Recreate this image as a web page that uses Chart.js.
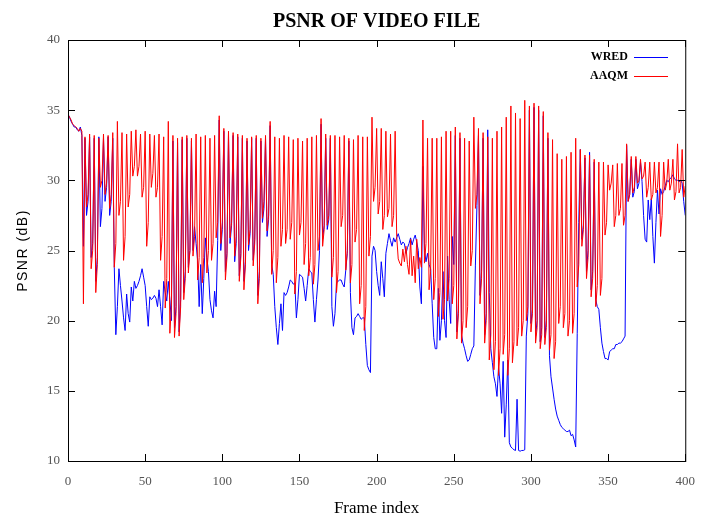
<!DOCTYPE html>
<html>
<head>
<meta charset="utf-8">
<title>PSNR of video file</title>
<script src="https://cdn.jsdelivr.net/npm/chart.js@4.4.1/dist/chart.umd.min.js"></script>
<style>
    html, body { margin: 0; padding: 0; background: #fff; }
    canvas { display: block; }
</style>
</head>
<body>
<canvas id="psnr-chart" width="708" height="517"></canvas>
<script>
// frame index 0..400
const frames = Array.from({ length: 401 }, (_, i) => i);

// PSNR (dB) of WRED, one value per frame
const wred = [
    34.7, 34.5, 34.2, 34.0, 33.8, 33.8, 33.6, 33.5, 33.8, 33.2,
    25.3, 33.0, 27.5, 28.5, 33.1, 24.5, 25.5, 33.0, 22.8, 24.5,
    33.1, 26.7, 28.0, 33.0, 28.5, 29.5, 33.1, 27.5, 28.5, 33.0,
    23.8, 19.0, 21.0, 23.7, 22.5, 21.4, 20.2, 19.3, 21.9, 20.5,
    19.9, 22.4, 21.4, 22.8, 22.3, 22.5, 22.8, 23.2, 23.7, 23.1,
    22.5, 21.0, 19.6, 21.7, 21.5, 21.6, 21.8, 21.6, 21.0, 22.2,
    21.0, 19.7, 22.8, 22.0, 21.4, 22.8, 21.5, 20.0, 32.8, 19.5,
    21.0, 32.7, 19.2, 21.5, 32.9, 22.0, 23.5, 33.0, 23.8, 25.0,
    32.8, 25.0, 26.7, 25.5, 24.3, 21.0, 24.0, 20.5, 23.0, 25.9,
    24.5, 23.5, 21.5, 20.7, 20.2, 22.1, 21.0, 25.7, 34.3, 25.0,
    26.5, 33.5, 23.5, 24.8, 33.3, 25.5, 26.8, 33.2, 24.2, 25.5,
    33.1, 23.2, 24.8, 33.0, 22.8, 24.2, 32.8, 25.0, 26.2, 33.0,
    24.3, 25.8, 33.0, 21.8, 23.5, 32.8, 27.0, 28.0, 33.0, 26.0,
    27.2, 33.9, 24.0, 23.3, 21.0, 19.5, 18.3, 19.8, 21.2, 19.3,
    22.0, 21.8, 22.0, 22.4, 22.9, 22.8, 22.6, 22.7, 20.2, 21.5,
    23.3, 23.2, 23.1, 22.3, 21.4, 22.5, 23.7, 23.5, 23.4, 21.5,
    19.9, 21.5, 22.9, 25.0, 34.0, 25.8, 26.8, 33.0, 26.5, 27.2,
    33.0, 21.0, 19.6, 20.5, 22.7, 22.8, 22.9, 22.9, 22.6, 22.4,
    23.6, 24.8, 32.8, 22.0, 19.5, 19.0, 20.2, 20.3, 20.5, 20.3,
    20.1, 20.2, 20.2, 18.3, 16.8, 16.5, 16.3, 24.6, 25.3, 25.0,
    23.5, 22.5, 21.8, 24.2, 23.0, 21.7, 24.8, 25.5, 26.2, 25.7,
    25.3, 25.9, 25.6, 25.9, 26.2, 25.8, 25.4, 25.6, 25.5, 24.8,
    25.2, 25.5, 25.9, 25.4, 25.8, 26.1, 25.6, 25.0, 22.4, 21.2,
    31.0, 25.0, 24.2, 24.8, 24.0, 23.7, 21.2, 18.8, 18.0, 18.0,
    22.3, 18.6, 20.0, 23.5, 20.0, 18.8, 24.6, 21.5, 19.8, 26.0,
    24.0, 33.2, 19.2, 20.8, 33.0, 19.0, 18.4, 18.0, 17.5, 17.1,
    17.2, 17.6, 18.0, 18.2, 23.9, 28.2, 33.2, 21.8, 23.5, 33.0,
    19.0, 20.5, 33.6, 22.0, 18.0, 17.0, 16.0, 15.5, 14.6, 16.7,
    15.5, 13.4, 17.1, 11.7, 14.0, 17.2, 11.3, 11.0, 10.9, 10.8,
    10.75, 14.4, 10.75, 10.7, 10.75, 10.75, 10.8, 18.9, 20.5, 35.0,
    19.8, 20.8, 35.2, 18.9, 20.0, 35.0, 18.5, 19.5, 34.6, 18.8,
    20.0, 33.0, 17.5, 16.0, 15.2, 14.4, 13.7, 13.2, 12.9, 12.6,
    12.4, 12.3, 12.2, 12.1, 12.1, 12.2, 11.8, 11.9, 11.5, 11.0,
    19.1, 27.0, 32.2, 25.8, 26.8, 31.6, 23.5, 25.0, 32.0, 22.2,
    23.5, 31.3, 21.5, 21.0, 20.8, 19.5, 18.4, 17.8, 17.3, 17.3,
    17.2, 17.8, 17.9, 18.0, 18.0, 18.3, 18.3, 18.4, 18.4, 18.5,
    18.7, 18.9, 32.5, 28.5, 29.0, 31.5, 28.8, 29.2, 31.5, 29.4,
    29.8, 31.3, 29.9, 27.5, 25.8, 25.6, 28.6, 27.2, 28.7, 26.0,
    24.1, 27.0, 29.3, 27.6, 29.4, 29.0, 29.2, 29.6, 30.0, 29.9,
    30.1, 30.2, 30.4, 30.1, 30.0, 30.0, 29.9, 30.0, 29.8, 28.5,
    27.5
];

// PSNR (dB) of AAQM, one value per frame
const aaqm = [
    34.7, 34.5, 34.3, 34.0, 33.9, 33.8, 33.7, 33.5, 33.7, 33.5, 21.2,
    33.1, 28.1, 29.0, 33.3, 23.7, 25.0, 33.2, 22.0, 24.0, 33.0, 29.5, 30.0, 33.3, 29.0, 29.8,
    33.2, 28.0, 29.0, 33.4, 23.8, 25.5, 34.2, 27.5, 28.5, 33.4, 24.3, 26.0, 33.3, 28.1, 29.0,
    33.5, 30.3, 31.0, 33.6, 30.3, 31.0, 33.3, 28.8, 29.5, 33.5, 25.3, 27.0, 33.3, 29.5, 30.5,
    33.2, 28.8, 29.5, 33.3, 24.3, 26.0, 33.1, 20.9, 23.0, 34.2, 19.1, 21.0, 33.2, 18.8, 20.5,
    33.0, 18.9, 21.0, 33.1, 21.5, 23.0, 33.2, 23.4, 25.0, 33.0, 24.6, 26.0, 33.3, 22.9, 24.5,
    33.1, 22.7, 24.5, 33.2, 23.4, 25.0, 33.0, 24.3, 25.5, 33.2, 25.9, 27.0, 34.6, 25.5, 27.0,
    33.7, 22.9, 24.5, 33.5, 25.9, 27.0, 33.4, 24.6, 26.0, 33.3, 22.8, 24.5, 33.2, 22.2, 24.0,
    33.0, 25.4, 26.5, 33.1, 23.9, 25.5, 33.2, 21.2, 23.0, 33.0, 27.3, 28.5, 33.2, 26.4, 27.5,
    34.2, 23.3, 25.0, 33.1, 22.7, 24.5, 33.0, 25.3, 26.5, 33.2, 25.5, 26.5, 33.1, 25.8, 27.0,
    32.9, 21.9, 23.5, 33.0, 26.1, 27.0, 32.8, 24.0, 25.5, 33.0, 23.2, 24.5, 33.1, 22.6, 24.0,
    33.2, 25.0, 26.0, 34.4, 25.3, 26.5, 33.3, 26.8, 27.5, 33.2, 23.1, 24.5, 33.2, 22.0, 23.5,
    33.1, 26.7, 27.5, 33.2, 23.6, 25.0, 33.0, 22.7, 24.0, 32.9, 25.6, 26.5, 33.2, 21.2, 22.5,
    33.1, 19.3, 21.0, 33.1, 24.6, 26.0, 34.5, 28.5, 29.5, 33.7, 27.6, 28.5, 33.7, 26.5, 27.5,
    33.5, 27.4, 28.0, 33.3, 26.7, 27.5, 33.5, 26.0, 24.4,
    24.1, 23.9, 25.1, 24.2, 25.3, 24.0, 23.3, 25.8, 23.2, 24.6, 22.7, 25.8, 23.7, 24.5, 23.8,
    34.3, 24.1, 25.5, 33.0, 22.2, 23.5, 33.0, 21.5, 23.0, 33.0, 20.3, 22.0, 33.1, 20.1, 21.5,
    33.5, 21.4, 23.0, 33.5, 21.2, 22.5, 33.8, 18.7, 20.5, 33.4, 18.4, 20.0, 33.0, 19.5, 21.0,
    32.8, 23.9, 25.0, 34.5, 28.0, 29.0, 33.7, 21.2, 23.0, 33.4, 18.4, 20.0, 33.1, 17.2, 19.0,
    33.0, 16.5, 18.5, 33.5, 16.1, 18.0, 33.8, 17.6, 19.0, 34.5, 16.1, 18.0, 35.3, 17.0, 18.5,
    34.8, 18.2, 19.5, 34.4, 18.9, 20.0, 35.7, 20.0, 21.0, 35.3, 19.2, 20.5, 35.5, 18.4, 19.5,
    35.3, 18.0, 19.0, 34.9, 18.3, 19.5, 33.4, 17.9, 19.0, 32.9, 17.3, 18.5, 31.9, 19.8, 21.0,
    31.5, 19.5, 20.5, 31.7, 18.9, 20.0, 32.0, 19.1, 20.5, 33.0, 22.4, 24.0, 32.2, 25.3, 26.5,
    31.8, 23.0, 24.5, 31.8, 21.7, 23.0, 31.5, 21.0, 22.5, 31.3, 21.8, 23.0, 31.3, 26.1, 27.0,
    31.1, 29.3, 29.8, 31.1, 26.7, 27.5, 31.2, 27.5, 28.0, 31.2, 26.8, 27.5, 32.6, 28.5, 29.0,
    31.7, 29.1, 29.5, 31.7, 29.8, 30.0, 31.5, 30.1, 30.3, 31.3, 28.8, 29.5, 31.3, 28.6, 29.0,
    31.3, 29.1, 29.5, 31.3, 26.0, 27.5, 31.3, 29.3, 29.8, 31.5, 29.3, 29.8, 31.5, 28.6, 29.2,
    32.6, 29.1, 29.5, 32.2, 28.8, 29.6
];

const xTicks = [0, 50, 100, 150, 200, 250, 300, 350, 400];
const yTicks = [10, 15, 20, 25, 30, 35, 40];

const tickFont = { family: "'Liberation Serif', serif", size: 13 };

// box, inner tick marks, titles and legend
const framePlugin = {
    id: 'frame',
    afterDraw(chart) {
        const { ctx, chartArea: a, scales: { x, y } } = chart;
        ctx.save();
        ctx.strokeStyle = '#000';
        ctx.lineWidth = 1;
        ctx.strokeRect(a.left + 0.5, a.top + 0.5, a.right - a.left, a.bottom - a.top);

        ctx.beginPath();
        xTicks.forEach(v => {
            const px = Math.round(x.getPixelForValue(v)) + 0.5;
            ctx.moveTo(px, a.bottom); ctx.lineTo(px, a.bottom - 7);
            ctx.moveTo(px, a.top); ctx.lineTo(px, a.top + 7);
        });
        yTicks.forEach(v => {
            const py = Math.round(y.getPixelForValue(v)) + 0.5;
            ctx.moveTo(a.left, py); ctx.lineTo(a.left + 7, py);
            ctx.moveTo(a.right, py); ctx.lineTo(a.right - 7, py);
        });
        ctx.stroke();

        const cx = (a.left + a.right) / 2;
        ctx.fillStyle = '#000';
        ctx.textAlign = 'center';
        ctx.textBaseline = 'alphabetic';
        ctx.font = "bold 20px 'Liberation Serif', serif";
        ctx.fillText('PSNR OF VIDEO FILE', cx, 27);

        ctx.font = "17px 'Liberation Serif', serif";
        ctx.fillText('Frame index', cx, 513);

        ctx.save();
        ctx.translate(27, (a.top + a.bottom) / 2);
        ctx.rotate(-Math.PI / 2);
        ctx.font = "14px 'Liberation Sans', sans-serif";
        ctx.letterSpacing = '1.5px';
        ctx.fillText('PSNR (dB)', 0, 0);
        ctx.restore();

        // legend
        ctx.font = "bold 12px 'Liberation Serif', serif";
        ctx.textAlign = 'right';
        ctx.textBaseline = 'middle';
        chart.data.datasets.forEach((ds, i) => {
            const ly = 57 + i * 19;
            ctx.fillStyle = '#000';
            ctx.fillText(ds.label, 628, ly);
            ctx.strokeStyle = ds.borderColor;
            ctx.lineWidth = 1.2;
            ctx.beginPath();
            ctx.moveTo(634, ly + 0.5);
            ctx.lineTo(668, ly + 0.5);
            ctx.stroke();
        });
        ctx.restore();
    }
};

new Chart(document.getElementById('psnr-chart'), {
    type: 'line',
    data: {
        datasets: [
            {
                label: 'WRED',
                data: frames.map((f, i) => ({ x: f, y: wred[i] })),
                borderColor: '#0000ff',
                borderWidth: 1,
                pointRadius: 0,
                tension: 0,
                order: 1
            },
            {
                label: 'AAQM',
                data: frames.map((f, i) => ({ x: f, y: aaqm[i] })),
                borderColor: '#ff0000',
                borderWidth: 1,
                pointRadius: 0,
                tension: 0,
                order: 0
            }
        ]
    },
    options: {
        responsive: false,
        animation: false,
        devicePixelRatio: 1,
        layout: { padding: { top: 40, right: 22, bottom: 0, left: 0 } },
        plugins: {
            legend: { display: false },
            title: { display: false },
            tooltip: { enabled: false }
        },
        scales: {
            x: {
                type: 'linear',
                min: 0,
                max: 400,
                afterBuildTicks: axis => { axis.ticks = xTicks.map(v => ({ value: v })); },
                afterFit: axis => { axis.height = 56; },
                grid: { display: false, drawTicks: false },
                border: { display: false },
                ticks: { color: '#555', font: tickFont, padding: 13, maxRotation: 0 }
            },
            y: {
                min: 10,
                max: 40,
                afterBuildTicks: axis => { axis.ticks = yTicks.map(v => ({ value: v })); },
                afterFit: axis => { axis.width = 68; },
                grid: { display: false, drawTicks: false },
                border: { display: false },
                ticks: { color: '#555', font: tickFont, padding: 8 }
            }
        }
    },
    plugins: [framePlugin]
});
</script>
</body>
</html>
